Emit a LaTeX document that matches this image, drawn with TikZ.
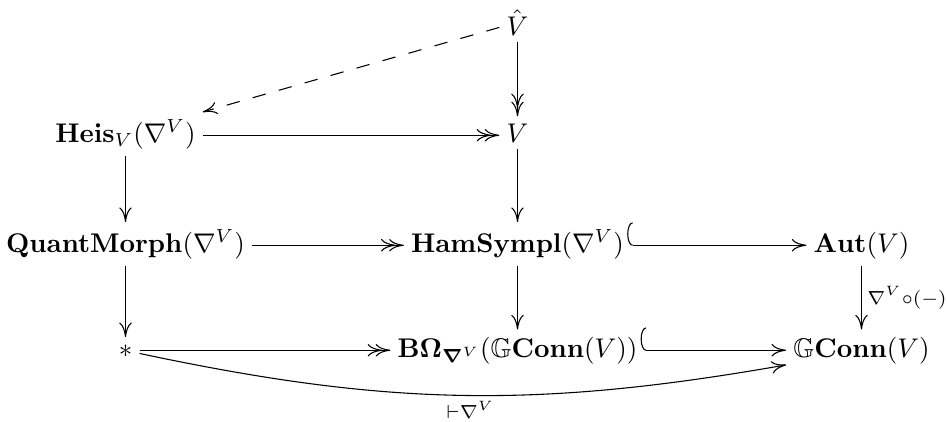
\documentclass[tikz,border=0pt]{standalone}
\usepackage{amsmath,amssymb,bm}
\usetikzlibrary{arrows.meta}
\begin{document}
\begin{tikzpicture}[x=0.37037pt,y=-0.37037pt,
  obj/.style={anchor=base, inner sep=2.5pt},
  arr/.style={line width=0.4pt, -{Computer Modern Rightarrow[length=5.4pt,width=4.6pt]}},
  epi/.style={line width=0.4pt, -{Computer Modern Rightarrow[length=5.4pt,width=4.6pt,sep=-2.4pt]Computer Modern Rightarrow[length=5.4pt,width=4.6pt]}},
  mono/.style={line width=0.4pt, {Hooks[right,width=17pt,length=2pt]}-{Computer Modern Rightarrow[length=5.4pt,width=4.6pt]}},
  dsh/.style={dash pattern=on 5pt off 5pt},
  lbl/.style={inner sep=2pt}]
\useasboundingbox (0,0) rectangle (947,421);
\node[obj] (Vh) at (517.5,35) {$\hat{V}$};
\node[obj] (Heis) at (125.5,142) {$\mathbf{Heis}_V(\nabla^V)$};
\node[obj] (V) at (517.5,142) {$V$};
\node[obj] (QM) at (125.5,252) {$\mathbf{QuantMorph}(\nabla^V)$};
\node[obj] (HS) at (517.5,252) {$\mathbf{HamSympl}(\nabla^V)$};
\node[obj] (Aut) at (861.5,252) {$\mathbf{Aut}(V)$};
\node[obj] (st) at (125.5,357) {$*$};
\node[obj] (BO) at (517.5,357) {$\mathbf{B\Omega}_{\boldsymbol{\nabla}^V}(\mathbb{G}\mathbf{Conn}(V))$};
\node[obj] (GC) at (861.5,357) {$\mathbb{G}\mathbf{Conn}(V)$};
% arrows
\draw[arr, dsh] (Vh) -- (Heis);
\draw[epi] (Vh) -- (V);
\draw[epi] ([yshift=2.5pt]Heis.base east) -- ([yshift=2.5pt]V.base west);
\draw[arr] (Heis) -- (QM);
\draw[arr] (V) -- (HS);
\draw[epi] ([yshift=2.5pt]QM.base east) -- ([yshift=2.5pt]HS.base west);
\draw[mono] ([yshift=2.5pt, xshift=-1.5pt]HS.base east) -- ([yshift=2.5pt]Aut.base west);
\draw[arr] (QM) -- (st);
\draw[arr] (HS) -- (BO);
\draw[arr] (Aut) -- node[right, lbl] {$\scriptstyle\nabla^V\circ(-)$} (GC);
\draw[epi] ([yshift=2.5pt]st.base east) -- ([yshift=2.5pt]BO.base west);
\draw[mono] ([yshift=2.5pt, xshift=-1.5pt]BO.base east) -- ([yshift=2.5pt]GC.base west);
\draw[arr] (st) to[bend right=11] node[below, lbl, xshift=3pt] {$\scriptstyle\vdash\nabla^V$} (GC);
\end{tikzpicture}
\end{document}
